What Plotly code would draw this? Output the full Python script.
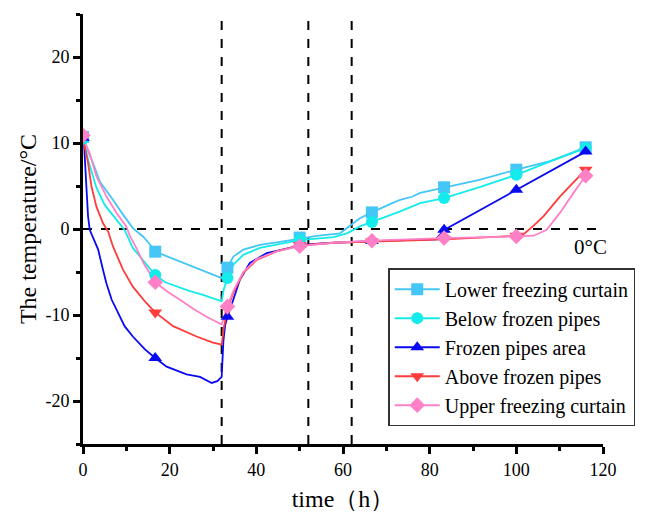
import plotly.graph_objects as go

# ---------------- data ----------------
names = ["Lower freezing curtain", "Below frozen pipes", "Frozen pipes area",
         "Above frozen pipes", "Upper freezing curtain"]

lower_t = [0, 0.4, 1.2, 2.3, 3.9, 5.5, 6.9, 9.2, 11.5, 13.9, 15.8, 16.67, 19.5, 22.3, 25.5,
           28.5, 31.0, 32.0, 32.4, 33.33, 34.7, 37, 40.8, 46.2, 50, 53.9, 59.3, 61.6, 63.9,
           66.67, 69, 71.1, 73.2, 75.9, 77.8, 80.5, 83.33, 91.7, 100, 107.8, 116]
lower_T = [10.7, 10.3, 9.0, 7.7, 5.5, 4.3, 3.4, 1.7, 0.1, -0.9, -2.0, -2.64, -3.2, -3.8, -4.4,
           -4.95, -5.5, -5.7, -5.3, -4.5, -3.2, -2.4, -1.85, -1.45, -1.1, -0.8, -0.5, 0.4, 1.25,
           1.93, 2.5, 2.95, 3.4, 3.75, 4.2, 4.5, 4.85, 5.75, 6.9, 7.9, 9.5]

below_t = [0, 0.5, 1.2, 1.9, 3.1, 5.0, 7.7, 9.6, 11.5, 13.9, 16.67, 19, 21.6, 24.5, 27.7,
           30.5, 32.0, 32.5, 33.33, 34.7, 37, 40.8, 46.2, 50, 57.8, 60.9, 63.9, 66.67, 70,
           73.2, 77.8, 83.33, 91.7, 100, 108, 116]
below_T = [10.5, 9.6, 8.0, 6.9, 4.8, 2.8, 1.1, -0.1, -2.2, -3.6, -5.35, -6.2, -6.7, -7.2, -7.65,
           -8.1, -8.4, -7.0, -5.7, -4.15, -3.0, -2.2, -1.65, -1.3, -0.95, -0.5, 0.3, 0.81, 1.5,
           2.05, 3.0, 3.6, 4.9, 6.3, 7.9, 9.4]

pipes_t = [0, 0.2, 0.5, 0.8, 1.16, 1.55, 2.3, 3.1, 3.5, 4.6, 5.4, 6.6, 8.1, 9.6, 11.5, 14.3,
           16.67, 19.3, 23.9, 27, 29.7, 31.0, 32.0, 32.4, 32.8, 33.33, 34.7, 36.2, 38.5, 42.4,
           47.8, 50, 57.8, 66.67, 75, 81.4, 83.33, 100, 116]
pipes_T = [10.6, 10.3, 7.5, 5.0, 1.5, -0.1, -1.0, -2.0, -2.4, -4.7, -6.3, -8.2, -9.8, -11.3,
           -12.5, -14.0, -15.0, -16.0, -16.9, -17.2, -17.9, -17.7, -17.2, -13.0, -11.2, -10.2,
           -8.2, -5.9, -3.95, -2.8, -2.2, -1.85, -1.6, -1.4, -1.3, -1.2, -0.1, 4.57, 9.0]

above_t = [0, 0.5, 1.16, 1.94, 3.1, 4.6, 5.8, 6.9, 9.2, 11.5, 14.6, 16.67, 20.8, 26.2, 30,
           32.0, 32.5, 33.33, 34.7, 37, 40.1, 44.7, 50, 57.8, 66.67, 83.33, 100, 101.7, 104,
           106.3, 110.1, 114, 116]
above_T = [10.6, 9.5, 7.7, 5.0, 2.6, 0.7, -0.3, -2.0, -4.7, -6.7, -8.6, -9.7, -11.3, -12.5, -13.2,
           -13.45, -11.5, -9.3, -7.4, -5.1, -3.6, -2.6, -1.9, -1.6, -1.45, -1.2, -0.78, -0.6, 0.4,
           1.5, 3.8, 5.9, 6.9]

upper_t = [0, 0.5, 1.55, 3.1, 5.4, 7.7, 10, 10.8, 12.3, 13.9, 16.67, 19.5, 22.3, 25.5, 28.5,
           31, 32, 32.5, 33.33, 34.7, 37, 40.1, 44.7, 50, 57.8, 66.67, 83.33, 100, 104, 107,
           110.1, 113.2, 116]
upper_T = [10.9, 10.0, 8.8, 6.1, 3.8, 1.9, 0.3, -0.8, -2.2, -3.9, -6.2, -7.3, -8.2, -9.3, -10.2,
           -10.9, -11.1, -10.3, -9.0, -7.2, -5.0, -3.5, -2.6, -2.0, -1.6, -1.36, -1.05, -0.86,
           -0.78, -0.1, 1.9, 4.2, 6.2]

marker_t = [0, 16.67, 33.33, 50, 66.67, 83.33, 100, 116]
lower_m = [10.7, -2.64, -4.5, -1.0, 1.93, 4.85, 6.9, 9.5]
below_m = [10.5, -5.35, -5.7, -1.3, 0.81, 3.6, 6.3, 9.4]
pipes_m = [10.6, -15.0, -10.2, -1.85, -1.4, -0.1, 4.57, 9.0]
above_m = [10.6, -9.7, -9.3, -1.9, -1.45, -1.2, -0.78, 6.9]
upper_m = [10.9, -6.2, -9.0, -2.0, -1.36, -1.05, -0.86, 6.2]

y_ticks = [-20, -10, 0, 10, 20]
y_ticklabels = ["-20", "-10", "0", "10", "20"]
x_ticks = [0, 20, 40, 60, 80, 100, 120]

stage_lines = [32, 52, 62]
zero_level = 0
# ------------------------------------------------------------------------

colors = ["#44C6F6", "#14EBEB", "#0A0AF0", "#FF3B3B", "#FF80C6"]
symbols = ["square", "circle", "triangle-up", "triangle-down", "diamond"]
curves = [(lower_t, lower_T), (below_t, below_T), (pipes_t, pipes_T),
          (above_t, above_T), (upper_t, upper_T)]
marks = [lower_m, below_m, pipes_m, above_m, upper_m]

FONT = "Times New Roman"

fig = go.Figure()
for i in range(5):
    t, T = curves[i]
    fig.add_trace(go.Scatter(x=t, y=T, mode="lines", line=dict(color=colors[i], width=1.8),
                             showlegend=False, legendgroup=names[i], hoverinfo="skip"))
for i in range(5):
    fig.add_trace(go.Scatter(x=marker_t, y=marks[i], mode="markers",
                             marker=dict(symbol=symbols[i], size=12, color=colors[i]),
                             showlegend=False, legendgroup=names[i]))
for i in range(5):
    fig.add_trace(go.Scatter(x=[None], y=[None], mode="lines+markers", name=names[i],
                             line=dict(color=colors[i], width=2),
                             marker=dict(symbol=symbols[i], size=12, color=colors[i]),
                             legendgroup=names[i]))

for xv in stage_lines:
    fig.add_shape(type="line", xref="x", yref="y", x0=xv, x1=xv, y0=-25, y1=25,
                  line=dict(color="black", width=2, dash="dash"), layer="below")
fig.add_shape(type="line", xref="x", yref="y", x0=0, x1=120, y0=zero_level, y1=zero_level,
              line=dict(color="black", width=2, dash="dash"), layer="below")

fig.add_annotation(x=117, y=-2.1, xref="x", yref="y", text="0°C", showarrow=False,
                   font=dict(family=FONT, size=21, color="black"))

axis_common = dict(showline=True, linewidth=3, linecolor="black", ticks="outside",
                   ticklen=7, tickwidth=3, tickcolor="black", showgrid=False, zeroline=False,
                   automargin=False,
                   tickfont=dict(family=FONT, size=18, color="black"))

fig.update_xaxes(range=[0, 120], tickvals=x_ticks,
                 minor=dict(dtick=10, tick0=0, ticks="outside", ticklen=4, tickwidth=3,
                            tickcolor="black"),
                 title=dict(text="time（h）", font=dict(family=FONT, size=24, color="black"),
                            standoff=12),
                 **axis_common)
fig.update_yaxes(range=[-25, 25], tickvals=y_ticks, ticktext=y_ticklabels,
                 minor=dict(dtick=5, tick0=0, ticks="outside", ticklen=4, tickwidth=3,
                            tickcolor="black"),
                 title=dict(text="The temperature/°C", font=dict(family=FONT, size=24, color="black"),
                            standoff=3),
                 **axis_common)

fig.update_layout(
    width=659, height=513,
    margin=dict(l=83, r=56, t=14, b=69),
    plot_bgcolor="white", paper_bgcolor="white",
    font=dict(family=FONT),
    legend=dict(x=0.587, y=0.409, xanchor="left", yanchor="top",
                bordercolor="#333333", borderwidth=1.5, bgcolor="white",
                font=dict(family=FONT, size=20, color="black"),
                tracegroupgap=0, itemwidth=45),
)

fig.write_html("out.html")
